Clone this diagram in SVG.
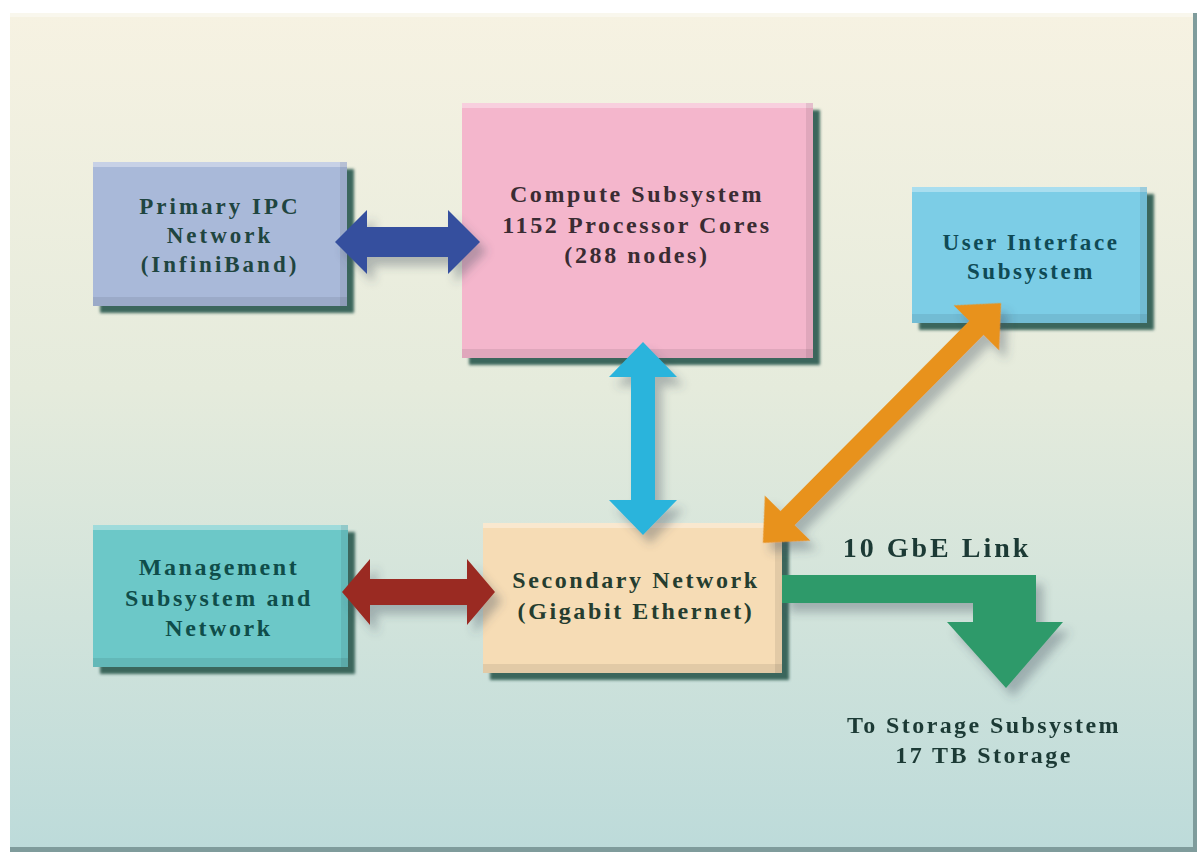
<svg xmlns="http://www.w3.org/2000/svg" width="1199" height="854" viewBox="0 0 1199 854">
<defs>
<linearGradient id="bg" x1="0" y1="0" x2="0" y2="1">
<stop offset="0" stop-color="#f6f2e2"/>
<stop offset="0.45" stop-color="#e5ebdc"/>
<stop offset="1" stop-color="#bddbda"/>
</linearGradient>
<filter id="boxsh" x="-10%" y="-10%" width="130%" height="130%">
<feGaussianBlur stdDeviation="1.5"/>
</filter>
<filter id="arrsh" x="-20%" y="-20%" width="150%" height="150%">
<feDropShadow dx="7" dy="9" stdDeviation="5" flood-color="#405060" flood-opacity="0.35"/>
</filter>
<style>
.t{font-family:"Liberation Serif","Times New Roman",serif;font-weight:bold;text-anchor:middle;letter-spacing:2.6px;}
.sh{fill:#3b665c;filter:url(#boxsh);}
.hl{fill:#ffffff;opacity:0.35;}
.dk{fill:#000000;opacity:0.08;}
</style>
</defs>
<rect x="0" y="0" width="1199" height="854" fill="#ffffff"/>
<rect x="10" y="13" width="1187" height="839" fill="#7f9c9c"/>
<rect x="10" y="13" width="1183" height="834" fill="url(#bg)"/>
<rect x="10" y="13" width="1183" height="4" fill="#ffffff" opacity="0.4"/>

<g id="primary-ipc">
<rect class="sh" x="100" y="169" width="254" height="144"/>
<rect x="93" y="162" width="254" height="144" fill="#a9b9d9"/>
<rect class="hl" x="93" y="162" width="254" height="5"/>
<rect class="dk" x="93" y="297" width="254" height="9"/>
<rect class="dk" x="340" y="162" width="7" height="144"/>
<text class="t" x="220" y="214" font-size="23" fill="#1f4540" style="letter-spacing:3px">Primary IPC</text>
<text class="t" x="220" y="243" font-size="23" fill="#1f4540" style="letter-spacing:3px">Network</text>
<text class="t" x="220" y="272" font-size="23" fill="#1f4540" style="letter-spacing:3px">(InfiniBand)</text>
</g>

<g id="compute">
<rect class="sh" x="469" y="110" width="351" height="255"/>
<rect x="462" y="103" width="351" height="255" fill="#f4b6cc"/>
<rect class="hl" x="462" y="103" width="351" height="5"/>
<rect class="dk" x="462" y="349" width="351" height="9"/>
<rect class="dk" x="806" y="103" width="7" height="255"/>
<text class="t" x="637" y="202" font-size="24" fill="#3a2c33">Compute Subsystem</text>
<text class="t" x="637" y="233" font-size="24" fill="#3a2c33">1152 Processor Cores</text>
<text class="t" x="637" y="263" font-size="24" fill="#3a2c33">(288 nodes)</text>
</g>

<g id="user-interface">
<rect class="sh" x="919" y="194" width="235" height="136"/>
<rect x="912" y="187" width="235" height="136" fill="#7ccde6"/>
<rect class="hl" x="912" y="187" width="235" height="5"/>
<rect class="dk" x="912" y="314" width="235" height="9"/>
<rect class="dk" x="1140" y="187" width="7" height="136"/>
<text class="t" x="1031" y="250" font-size="23" fill="#0f4a55">User Interface</text>
<text class="t" x="1031" y="279" font-size="23" fill="#0f4a55">Subsystem</text>
</g>

<g id="management">
<rect class="sh" x="100" y="532" width="255" height="142"/>
<rect x="93" y="525" width="255" height="142" fill="#6cc8c8"/>
<rect class="hl" x="93" y="525" width="255" height="5"/>
<rect class="dk" x="93" y="658" width="255" height="9"/>
<rect class="dk" x="341" y="525" width="7" height="142"/>
<text class="t" x="219" y="575" font-size="24" fill="#0f4d4a">Management</text>
<text class="t" x="219" y="606" font-size="24" fill="#0f4d4a">Subsystem and</text>
<text class="t" x="219" y="636" font-size="24" fill="#0f4d4a">Network</text>
</g>

<g id="secondary">
<rect class="sh" x="490" y="530" width="299" height="150"/>
<rect x="483" y="523" width="299" height="150" fill="#f6dcb5"/>
<rect class="hl" x="483" y="523" width="299" height="5"/>
<rect class="dk" x="483" y="664" width="299" height="9"/>
<rect class="dk" x="775" y="523" width="7" height="150"/>
<text class="t" x="636" y="588" font-size="24" fill="#253d2f">Secondary Network</text>
<text class="t" x="636" y="619" font-size="24" fill="#253d2f">(Gigabit Ethernet)</text>
</g>

<g id="connectors" filter="url(#arrsh)">
<path d="M335,242 L367,210 L367,227 L448,227 L448,210 L480,242 L448,274 L448,257 L367,257 L367,274 Z" fill="#34509e"/>
<path d="M342,592 L370,559 L370,579 L467,579 L467,559 L495,592 L467,625 L467,605 L370,605 L370,625 Z" fill="#9a2c22"/>
<path d="M643,342 L677,377 L655,377 L655,500 L677,500 L643,535 L609,500 L631,500 L631,377 L609,377 Z" fill="#2ab4dc"/>
<path transform="translate(882,423) rotate(-45.2)" d="M-169,0 L-134,-32 L-134,-10 L134,-10 L134,-32 L169,0 L134,32 L134,10 L-134,10 L-134,32 Z" fill="#e8921e"/>
<path d="M782,575 L1036,575 L1036,622 L1063,622 L1006,688 L947,622 L973,622 L973,603 L782,603 Z" fill="#2f9a6a"/>
</g>

<g id="labels">
<text class="t" x="937" y="557" font-size="28" fill="#1c3a35" style="letter-spacing:3px">10 GbE Link</text>
<text class="t" x="984" y="733" font-size="24" fill="#1c3a35" style="letter-spacing:2.4px">To Storage Subsystem</text>
<text class="t" x="984" y="763" font-size="24" fill="#1c3a35" style="letter-spacing:2.4px">17 TB Storage</text>
</g>
</svg>
